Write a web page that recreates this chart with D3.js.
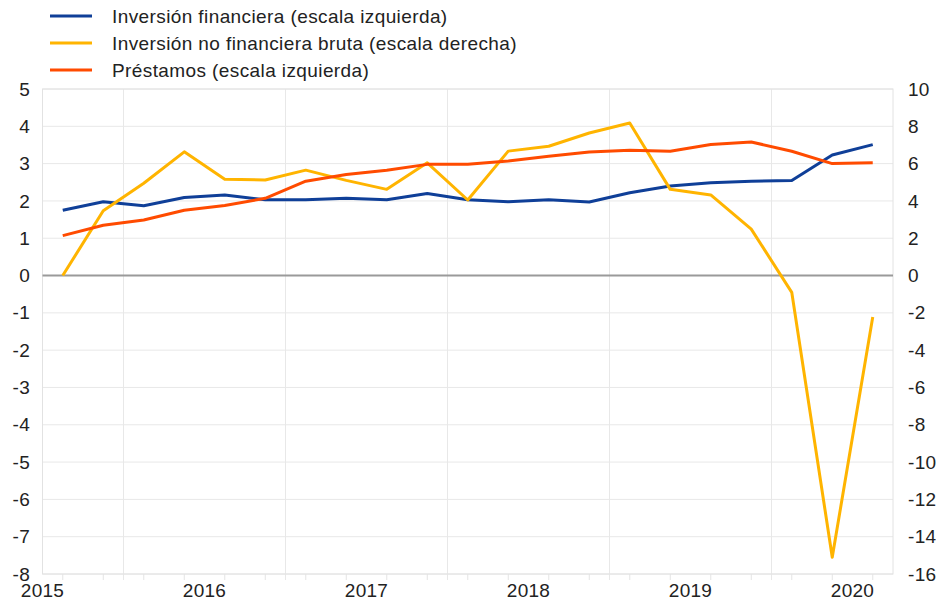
<!DOCTYPE html>
<html lang="es">
<head>
<meta charset="utf-8">
<script src="https://cdn.jsdelivr.net/npm/d3@7"></script>
<style>
  html, body { margin: 0; padding: 0; background: #fff; }
  svg { display: block; font-family: "Liberation Sans", Arial, sans-serif; }
  .tick-label { font-size: 19px; fill: #222; letter-spacing: 0.3px; }
  .legend-label { font-size: 19px; fill: #222; letter-spacing: 0.4px; }
</style>
</head>
<body>
<svg id="chart" width="936" height="603"></svg>
<script>
// quarterly observations, 2015 Q1 - 2020 Q1
const quarters = [
  "2015Q1", "2015Q2", "2015Q3", "2015Q4",
  "2016Q1", "2016Q2", "2016Q3", "2016Q4",
  "2017Q1", "2017Q2", "2017Q3", "2017Q4",
  "2018Q1", "2018Q2", "2018Q3", "2018Q4",
  "2019Q1", "2019Q2", "2019Q3", "2019Q4",
  "2020Q1",
];

// left scale
const inversionFinanciera = [
  1.75, 1.98, 1.87, 2.09, 2.16, 2.03, 2.03, 2.07, 2.03, 2.2, 2.03,
  1.98, 2.03, 1.97, 2.22, 2.4, 2.49, 2.53, 2.55, 3.23, 3.51,
];
const prestamos = [
  1.07, 1.35, 1.49, 1.75, 1.88, 2.07, 2.53, 2.71, 2.82, 2.98, 2.98,
  3.07, 3.2, 3.31, 3.36, 3.33, 3.51, 3.58, 3.33, 3.0, 3.02,
];
// right scale
const inversionNoFinanciera = [
  0, 3.47, 4.95, 6.63, 5.16, 5.12, 5.65, 5.1, 4.62, 6.04, 4.05,
  6.67, 6.93, 7.64, 8.18, 4.62, 4.32, 2.49, -0.9, -15.1, -2.22,
];

const years = [2015, 2016, 2017, 2018, 2019, 2020];
const leftTicks = [5, 4, 3, 2, 1, 0, -1, -2, -3, -4, -5, -6, -7, -8];
const rightTicks = [10, 8, 6, 4, 2, 0, -2, -4, -6, -8, -10, -12, -14, -16];

const series = [
  { name: "Inversión financiera (escala izquierda)", values: inversionFinanciera, axis: "left", color: "#0f3f98" },
  { name: "Inversión no financiera bruta (escala derecha)", values: inversionNoFinanciera, axis: "right", color: "#ffb400" },
  { name: "Préstamos (escala izquierda)", values: prestamos, axis: "left", color: "#ff4b00" },
];

// quarter mid-point as decimal year
function quarterToYear(q) {
  const year = +q.slice(0, 4);
  const n = +q.slice(5);
  return year + (n - 0.5) / 4;
}

const svg = d3.select("#chart");
const plot = { left: 42.5, right: 893, top: 89, bottom: 574 };

const x = d3.scaleLinear().domain([2015, 2020.25]).range([plot.left, plot.right]);
const yLeft = d3.scaleLinear().domain([-8, 5]).range([plot.bottom, plot.top]);
const yRight = d3.scaleLinear().domain([-16, 10]).range([plot.bottom, plot.top]);

// horizontal gridlines
svg.append("g")
  .selectAll("line")
  .data(leftTicks)
  .join("line")
  .attr("x1", plot.left)
  .attr("x2", plot.right)
  .attr("y1", (d) => yLeft(d))
  .attr("y2", (d) => yLeft(d))
  .attr("stroke", "#e8e8e8")
  .attr("stroke-width", 1);

// vertical gridlines at mid-year, running a little below the frame
svg.append("g")
  .selectAll("line")
  .data(years.slice(0, -1).map((y) => y + 0.5))
  .join("line")
  .attr("x1", (d) => x(d))
  .attr("x2", (d) => x(d))
  .attr("y1", plot.top)
  .attr("y2", plot.bottom + 6)
  .attr("stroke", "#e8e8e8")
  .attr("stroke-width", 1);

// small ticks at each quarter
svg.append("g")
  .selectAll("line")
  .data(quarters)
  .join("line")
  .attr("x1", (d) => x(quarterToYear(d)))
  .attr("x2", (d) => x(quarterToYear(d)))
  .attr("y1", plot.bottom)
  .attr("y2", plot.bottom + 6)
  .attr("stroke", "#e4e4e4")
  .attr("stroke-width", 1);

// frame
svg.append("rect")
  .attr("x", plot.left)
  .attr("y", plot.top)
  .attr("width", plot.right - plot.left)
  .attr("height", plot.bottom - plot.top)
  .attr("fill", "none")
  .attr("stroke", "#e2e2e2")
  .attr("stroke-width", 1);

// zero line
svg.append("line")
  .attr("x1", plot.left)
  .attr("x2", plot.right)
  .attr("y1", yLeft(0))
  .attr("y2", yLeft(0))
  .attr("stroke", "#9a9a9a")
  .attr("stroke-width", 2);

// axis labels
svg.append("g")
  .selectAll("text")
  .data(leftTicks)
  .join("text")
  .attr("class", "tick-label")
  .attr("x", 30)
  .attr("y", (d) => yLeft(d))
  .attr("dy", "0.35em")
  .attr("text-anchor", "end")
  .text((d) => d);

svg.append("g")
  .selectAll("text")
  .data(rightTicks)
  .join("text")
  .attr("class", "tick-label")
  .attr("x", 908)
  .attr("y", (d) => yRight(d))
  .attr("dy", "0.35em")
  .attr("text-anchor", "start")
  .text((d) => d);

svg.append("g")
  .selectAll("text")
  .data(years)
  .join("text")
  .attr("class", "tick-label")
  .attr("x", (d) => x(d))
  .attr("y", 590)
  .attr("dy", "0.35em")
  .attr("text-anchor", "middle")
  .text((d) => d);

// lines
series.forEach((s) => {
  const yScale = s.axis === "left" ? yLeft : yRight;
  const line = d3.line()
    .x((d, i) => x(quarterToYear(quarters[i])))
    .y((d) => yScale(d));
  svg.append("path")
    .datum(s.values)
    .attr("d", line)
    .attr("fill", "none")
    .attr("stroke", s.color)
    .attr("stroke-width", 3)
    .attr("stroke-linejoin", "round");
});

// legend
const legend = svg.append("g")
  .selectAll("g")
  .data(series)
  .join("g")
  .attr("transform", (d, i) => `translate(0, ${16 + i * 27})`);

legend.append("line")
  .attr("x1", 50)
  .attr("x2", 92)
  .attr("stroke", (d) => d.color)
  .attr("stroke-width", 3);

legend.append("text")
  .attr("class", "legend-label")
  .attr("x", 112)
  .attr("dy", "0.35em")
  .text((d) => d.name);
</script>
</body>
</html>
